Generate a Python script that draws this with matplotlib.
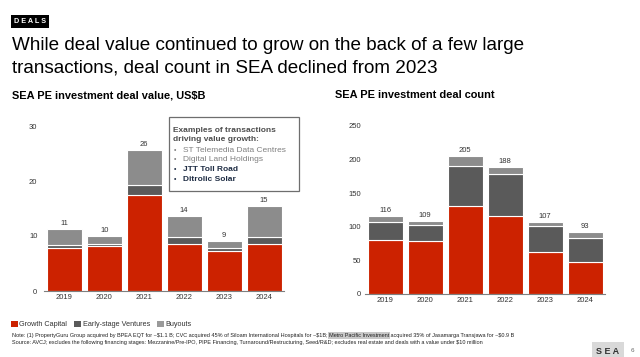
import matplotlib
matplotlib.use("Agg")
import matplotlib.pyplot as plt
from matplotlib.patches import Patch, Rectangle
import numpy as np

plt.rcParams['font.family'] = ['Liberation Sans', 'DejaVu Sans']

years = ["2019", "2020", "2021", "2022", "2023", "2024"]

value_growth = [7.9, 8.2, 17.4, 8.5, 7.3, 8.5]
value_early = [0.4, 0.3, 1.9, 1.4, 0.6, 1.4]
value_buyouts = [2.9, 1.5, 6.4, 3.7, 1.2, 5.6]
value_labels = ["11", "10", "26", "14", "9", "15"]

count_growth = [80, 79, 130, 116, 62, 48]
count_early = [27, 23, 60, 62, 39, 35]
count_buyouts = [9, 7, 15, 10, 6, 9]
count_labels = ["116", "109", "205", "188", "107", "93"]

value_ticks = [0, 10, 20, 30]
count_ticks = [0, 50, 100, 150, 200, 250]

series_names = ["Growth Capital", "Early-stage Ventures", "Buyouts"]
RED = "#CC2200"
DARK = "#5a5a5a"
LIGHT = "#8c8c8c"
colors = [RED, DARK, LIGHT]

W, H = 640, 357
fig = plt.figure(figsize=(6.4, 3.57), dpi=100)

def fx(px):
    return px / W

def fy(py):
    return 1 - py / H

def draw(ax, segs, labels, ticks, ymax, label_pad):
    x = np.arange(len(years))
    bottom = np.zeros(len(years))
    for seg, c in zip(segs, colors):
        ax.bar(x, seg, bottom=bottom, width=0.88, color=c, edgecolor="white", linewidth=0.8)
        bottom += np.array(seg)
    for xi, tot, lab in zip(x, bottom, labels):
        ax.annotate(lab, (xi, tot), xytext=(0, 1.5), textcoords="offset points",
                    ha="center", va="bottom", fontsize=5.5, color="#333333")
    ax.set_xlim(-0.5, len(years) - 0.5)
    ax.set_ylim(0, ymax)
    ax.set_yticks(ticks)
    ax.set_xticks(x)
    ax.set_xticklabels(years)
    for s in ["top", "right", "left"]:
        ax.spines[s].set_visible(False)
    ax.spines["bottom"].set_color("#7f7f7f")
    ax.spines["bottom"].set_linewidth(0.8)
    ax.tick_params(axis="both", length=0, labelsize=5.5, labelcolor="#333333")
    ax.tick_params(axis="y", pad=label_pad)
    ax.tick_params(axis="x", pad=2)
    ax.set_facecolor("none")

ax1 = fig.add_axes([fx(44.3), fy(291), fx(239.8), fy(126) - fy(291)])
draw(ax1, [value_growth, value_early, value_buyouts], value_labels, value_ticks, 30, 5)

ax2 = fig.add_axes([fx(365.3), fy(294), fx(239.8), fy(125.7) - fy(294)])
draw(ax2, [count_growth, count_early, count_buyouts], count_labels, count_ticks, 250, 3)

# Header tag
fig.text(fx(14), fy(21.5), "D E A L S", fontsize=5.2, fontweight="bold", color="white",
         ha="left", va="center",
         bbox=dict(facecolor="black", edgecolor="none", boxstyle="square,pad=0.45"))

# Title
fig.text(fx(12), fy(45), "While deal value continued to grow on the back of a few large",
         fontsize=13.6, color="black", ha="left", va="center")
fig.text(fx(12), fy(68), "transactions, deal count in SEA declined from 2023",
         fontsize=13.6, color="black", ha="left", va="center")

# Subtitles
fig.text(fx(12), fy(95), "SEA PE investment deal value, US\\$B", fontsize=7.9,
         fontweight="bold", color="black", ha="left", va="center")
fig.text(fx(335), fy(95), "SEA PE investment deal count", fontsize=7.9,
         fontweight="bold", color="black", ha="left", va="center")

# Annotation box
box = Rectangle((fx(169), fy(191)), fx(130), fy(117) - fy(191), transform=fig.transFigure,
                facecolor="white", edgecolor="#6e6e6e", linewidth=0.9)
fig.add_artist(box)
fig.text(fx(173), fy(130), "Examples of transactions", fontsize=6, fontweight="bold",
         color="#4d4d4d", ha="left", va="center")
fig.text(fx(173), fy(140), "driving value growth:", fontsize=6, fontweight="bold",
         color="#4d4d4d", ha="left", va="center")
bullets = [("ST Telemedia Data Centres", "#808080", "normal"),
           ("Digital Land Holdings", "#808080", "normal"),
           ("JTT Toll Road", "#1f2d44", "semibold"),
           ("Ditrolic Solar", "#1f2d44", "semibold")]
for i, (txt, c, w) in enumerate(bullets):
    yy = 150 + i * 9.7
    fig.text(fx(173.5), fy(yy), "•", fontsize=5, color=c, ha="left", va="center")
    fig.text(fx(183), fy(yy), txt, fontsize=6, color=c, fontweight=w, ha="left", va="center")

# Legend
handles = [Patch(facecolor=c, edgecolor="none") for c in [RED, DARK, "#9a9a9a"]]
fig.legend(handles, series_names, loc="center left", bbox_to_anchor=(fx(11), fy(324.5)),
           ncol=3, frameon=False, fontsize=5.2, handlelength=0.9, handleheight=0.9,
           handletextpad=0.25, columnspacing=1.0, borderpad=0, borderaxespad=0,
           labelcolor="#333333")

# Notes
note_fs = 4.0
t1 = fig.text(fx(12), fy(337), "Note: (1) PropertyGuru Group acquired by BPEA EQT for ~\\$1.1 B; CVC acquired 45% of Siloam International Hospitals for ~\\$1B; ",
              fontsize=note_fs, color="#222222", ha="left", va="baseline")
t2 = fig.text(0, 0, "Metro Pacific Investment", fontsize=note_fs, color="#222222",
              ha="left", va="baseline",
              bbox=dict(facecolor="#c8c8c8", edgecolor="none", boxstyle="square,pad=0.15"))
fig.canvas.draw()
r = fig.canvas.get_renderer()
bb = t1.get_window_extent(r)
t2.set_position((bb.x1 / fig.bbox.width, fy(337)))
fig.canvas.draw()
bb2 = t2.get_window_extent(r)
fig.text(bb2.x1 / fig.bbox.width, fy(337), " acquired 35% of Jasamarga Transjawa for ~\\$0.9 B",
         fontsize=note_fs, color="#222222", ha="left", va="baseline")
fig.text(fx(12), fy(344), "Source: AVCJ; excludes the following financing stages: Mezzanine/Pre-IPO, PIPE Financing, Turnaround/Restructuring, Seed/R&D; excludes real estate and deals with a value under \\$10 million",
         fontsize=note_fs, color="#222222", ha="left", va="baseline")

# Footer logo
fig.text(fx(608), fy(351.5), "S E A", fontsize=6.5, fontweight="bold", color="#333333",
         ha="center", va="center",
         bbox=dict(facecolor="#d9d9d9", edgecolor="none", boxstyle="square,pad=0.5"))
fig.text(fx(632), fy(351), "6", fontsize=4.5, color="#666666", ha="center", va="center")

fig.savefig("out.png", dpi=100)
